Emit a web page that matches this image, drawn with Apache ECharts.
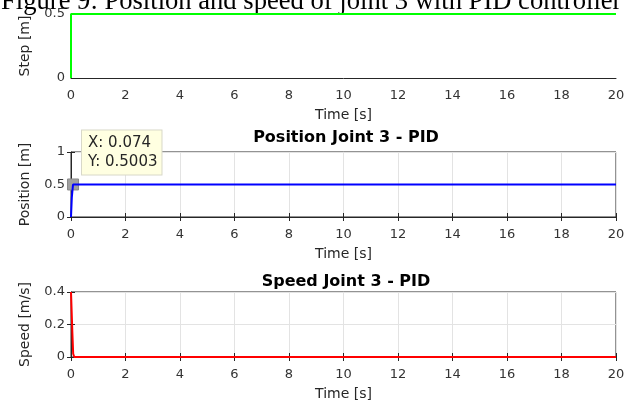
<!DOCTYPE html>
<html><head><meta charset="utf-8">
<script src="https://cdn.jsdelivr.net/npm/echarts@6/dist/echarts.min.js"></script>
<style>html,body{margin:0;padding:0;background:#fff}#c{width:629px;height:403px}</style>
</head><body><div id="c"></div>
<script>
var figureTitle = 'Figure 9: Position and speed of joint 3 with PID controller';
var panelTitles = ['', 'Position Joint 3 - PID', 'Speed Joint 3 - PID'];
var yNames = ['Step [m]', 'Position [m]', 'Speed [m/s]'];
var xName = 'Time [s]';
var xTicks = [0, 2, 4, 6, 8, 10, 12, 14, 16, 18, 20];
var stepData = [[0, 0], [0, 0.5], [20, 0.5]];
var positionData = [[0, 0], [0.03, 0.3], [0.074, 0.5003], [20, 0.5]];
var speedData = [[0, 0.4], [0.02, 0.39], [0.05, 0.15], [0.08, 0.02], [0.12, 0], [20, 0]];
var yRanges = [[0, 0.5, 0.5], [0, 1, 0.5], [0, 0.4, 0.2]];
var dataTip = {x: 0.074, y: 0.5003};

var chart = echarts.init(document.getElementById('c'), null, {renderer: 'canvas'});
var font = 'DejaVu Sans, Verdana, sans-serif';
var axisColor = '#262626';
var tops = [14, 152, 292];
var heights = [64, 65, 65];
var grids = [], xAxes = [], yAxes = [], series = [];
for (var i = 0; i < 3; i++) {
  var boxed = i > 0;
  grids.push({left: 71, right: 13, top: tops[i], height: heights[i], show: boxed, borderColor: axisColor, borderWidth: 1});
  xAxes.push({
    type: 'value', gridIndex: i, min: xTicks[0], max: xTicks[xTicks.length - 1], interval: 2,
    name: xName, nameLocation: 'middle', nameGap: 30,
    nameTextStyle: {fontFamily: font, fontSize: 14, color: axisColor, verticalAlign: 'top'},
    axisLine: {show: true, onZero: false, lineStyle: {color: axisColor, width: 1}},
    axisTick: {show: boxed, inside: true, length: 4, lineStyle: {color: axisColor}},
    axisLabel: {fontFamily: font, fontSize: 13, color: '#333', margin: 11},
    splitLine: {show: boxed, lineStyle: {color: '#e3e3e3', width: 1}}
  });
  xAxes.push({
    type: 'value', gridIndex: i, position: 'top', min: 0, max: 20, interval: 2,
    axisLine: {show: false}, axisLabel: {show: false}, splitLine: {show: false},
    axisTick: {show: boxed, inside: true, length: 4, lineStyle: {color: axisColor}}
  });
  yAxes.push({
    type: 'value', gridIndex: i, min: yRanges[i][0], max: yRanges[i][1], interval: yRanges[i][2],
    name: yNames[i], nameLocation: 'middle', nameGap: 39,
    nameTextStyle: {fontFamily: font, fontSize: 14, color: axisColor},
    axisLine: {show: true, lineStyle: {color: axisColor, width: 1}},
    axisTick: {show: boxed, inside: true, length: 4, lineStyle: {color: axisColor}},
    axisLabel: {fontFamily: font, fontSize: 13, color: '#333', margin: 6, formatter: function (v) { return String(v); }},
    splitLine: {show: boxed, lineStyle: {color: '#e3e3e3', width: 1}}
  });
  yAxes.push({
    type: 'value', gridIndex: i, position: 'right', min: yRanges[i][0], max: yRanges[i][1], interval: yRanges[i][2],
    axisLine: {show: false}, axisLabel: {show: false}, splitLine: {show: false},
    axisTick: {show: boxed, inside: true, length: 4, lineStyle: {color: axisColor}}
  });
}
series.push({type: 'line', xAxisIndex: 0, yAxisIndex: 0, data: stepData, showSymbol: false, lineStyle: {color: '#00ff00', width: 2}, z: 5, animation: false});
series.push({type: 'line', xAxisIndex: 2, yAxisIndex: 2, data: positionData, showSymbol: false, lineStyle: {color: '#0000ff', width: 2}, z: 5, animation: false,
  markPoint: {
    symbol: 'rect', symbolSize: 11, itemStyle: {color: '#a0a0a0', borderColor: '#8a8a8a', borderWidth: 1},
    data: [{coord: [dataTip.x, dataTip.y]}],
    label: {
      show: true, position: [15, -48],
      formatter: 'X: ' + dataTip.x + '\nY: ' + dataTip.y,
      fontFamily: font, fontSize: 15, color: '#262626', lineHeight: 19,
      backgroundColor: '#ffffe1', borderColor: '#d8d8c8', borderWidth: 1, padding: [3, 4, 3, 6]
    }
  }
});
series.push({type: 'line', xAxisIndex: 4, yAxisIndex: 4, data: speedData, showSymbol: false, lineStyle: {color: '#ff0000', width: 2}, z: 5, animation: false});

chart.setOption({
  animation: false,
  title: [
    {text: panelTitles[1], left: 341, textAlign: 'center', top: 125, textStyle: {fontFamily: font, fontSize: 16, fontWeight: 'bold', color: '#000'}},
    {text: panelTitles[2], left: 341, textAlign: 'center', top: 269, textStyle: {fontFamily: font, fontSize: 16, fontWeight: 'bold', color: '#000'}}
  ],
  graphic: [{type: 'text', left: 1, top: -11, style: {text: figureTitle, fontFamily: 'Liberation Serif, Times New Roman, serif', fontSize: 26.6, fill: '#000'}}],
  grid: grids, xAxis: xAxes, yAxis: yAxes, series: series
});
</script></body></html>
